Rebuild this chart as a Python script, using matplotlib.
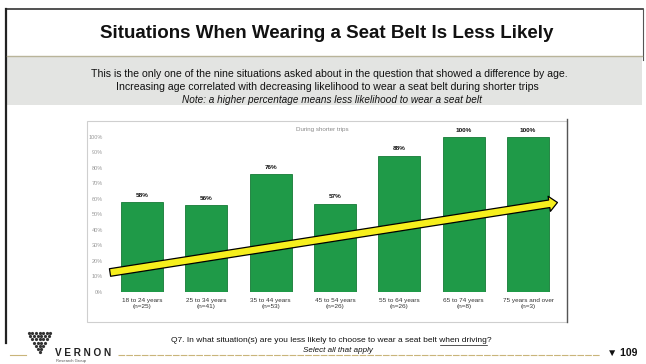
import matplotlib
matplotlib.use('Agg')
import matplotlib.pyplot as plt
from matplotlib.patches import Rectangle, FancyArrowPatch, ArrowStyle
from matplotlib.lines import Line2D
import numpy as np

# ---- data ----
categories = ["18 to 24 years", "25 to 34 years", "35 to 44 years", "45 to 54 years",
              "55 to 64 years", "65 to 74 years", "75 years and over"]
sample_sizes = ["(n=25)", "(n=41)", "(n=53)", "(n=26)", "(n=26)", "(n=8)", "(n=3)"]
values = [58, 56, 76, 57, 88, 100, 100]
y_ticks = [0, 10, 20, 30, 40, 50, 60, 70, 80, 90, 100]
y_tick_labels = [f"{t}%" for t in y_ticks]
chart_caption = "During shorter trips"

title = "Situations When Wearing a Seat Belt Is Less Likely"
sub1 = "This is the only one of the nine situations asked about in the question that showed a difference by age."
sub2 = "Increasing age correlated with decreasing likelihood to wear a seat belt during shorter trips"
sub3 = "Note: a higher percentage means less likelihood to wear a seat belt"
question_pre = "Q7. In what situation(s) are you less likely to choose to wear a seat belt "
question_ul = "when driving"
question_post = "?"
select = "Select all that apply"
page = "\u25BC 109"

plt.rcParams['font.family'] = ['Liberation Sans', 'DejaVu Sans']

W, H = 646, 364
fig = plt.figure(figsize=(W / 100, H / 100), dpi=100)
fig.patch.set_facecolor('white')


def fx(x):
    return x / W


def fy(y):
    return 1 - y / H


def rect(x0, y0, x1, y1, **kw):
    fig.patches.append(Rectangle((fx(x0), fy(y1)), (x1 - x0) / W, (y1 - y0) / H,
                                 transform=fig.transFigure, **kw))


def line(xs, ys, **kw):
    fig.lines.append(Line2D([fx(x) for x in xs], [fy(y) for y in ys],
                            transform=fig.transFigure, **kw))


# slide frame
line([6, 643], [9, 9], color='#333333', lw=1.2)
line([6, 6], [9, 343], color='#222222', lw=1.6)
line([643, 643], [9, 60], color='#555555', lw=0.8)
# subtitle band
rect(7, 57, 642, 105, facecolor='#e3e4e2', edgecolor='none', zorder=0)
line([7, 642], [56, 56], color='#b9b49a', lw=1.0)

fig.text(fx(327), fy(33), title, ha='center', va='center', fontsize=13.5,
         fontweight='bold', color='#111111')
fig.text(fx(329), fy(74), sub1, ha='center', va='center', fontsize=7.6, color='#111111')
fig.text(fx(327), fy(87), sub2, ha='center', va='center', fontsize=7.6, color='#111111')
fig.text(fx(332), fy(100), sub3, ha='center', va='center', fontsize=7.2,
         style='italic', color='#111111')

# chart frame
rect(87, 121, 567, 322, facecolor='white', edgecolor='#cfcfcf', lw=0.8, zorder=1)
line([567, 567], [119, 322], color='#555555', lw=1.0, zorder=2)

ax = fig.add_axes([fx(106), fy(292), 460 / W, 160 / H])
ax.set_zorder(3)
ax.set_facecolor('none')
x = np.arange(len(categories))
bars = ax.bar(x, values, width=0.65, color='#1f9a48', edgecolor='#157a36', lw=0.6, zorder=2)
for xi, v in zip(x, values):
    ax.annotate(f"{v}%", (xi, v), xytext=(0, 3), textcoords='offset points',
                ha='center', va='bottom', fontsize=4.6, fontweight='bold', color='#111111')
ax.set_xlim(-0.56, 6.59)
ax.set_ylim(0, 103.2)
ax.set_yticks(y_ticks)
ax.set_yticklabels(y_tick_labels, fontsize=4, color='#9a9a9a')
ax.set_xticks(x)
ax.set_xticklabels([f"{c}\n{n}" for c, n in zip(categories, sample_sizes)],
                   fontsize=4.6, color='#333333', linespacing=1.3)
ax.tick_params(axis='both', length=0)
ax.tick_params(axis='y', pad=2)
ax.tick_params(axis='x', pad=4)
for s in ax.spines.values():
    s.set_visible(False)

arrow = FancyArrowPatch((-0.54, 12.3), (6.5, 58),
                        arrowstyle=ArrowStyle.Simple(head_length=6, head_width=11, tail_width=5.5),
                        mutation_scale=1, fc='#f6ef1d', ec='black', lw=0.9,
                        clip_on=False, zorder=5)
ax.add_patch(arrow)

fig.text(fx(322), fy(129), chart_caption, ha='center', va='center', fontsize=4.5,
         color='#8a8a8a', zorder=4)

# footer question with underlined part
qsize = 6.0
renderer = fig.canvas.get_renderer()


def text_width(s, **kw):
    t = fig.text(0, 0, s, fontsize=qsize, **kw)
    w = t.get_window_extent(renderer=renderer).width
    t.remove()
    return w


w_pre = text_width(question_pre)
w_ul = text_width(question_ul)
w_full = text_width(question_pre + question_ul + question_post)
left = 331 - w_full / 2
fig.text(fx(331), fy(341), question_pre + question_ul + question_post, ha='center',
         va='center', fontsize=qsize, color='#111111')
line([left + w_pre + 1, left + w_pre + w_ul], [344.5, 344.5], color='#111111', lw=0.5)

fig.text(fx(338), fy(350), select, ha='center', va='center', fontsize=5.8,
         style='italic', color='#111111')
fig.text(fx(637), fy(353), page, ha='right', va='center', fontsize=7.5,
         fontweight='bold', color='#111111')
line([118, 600], [355, 355], color='#c9b57a', lw=0.8, ls=(0, (6, 1)))
line([10, 26], [355, 355], color='#c9b57a', lw=0.8)

# logo dots
for r, n in enumerate([7, 6, 5, 4, 3, 2, 1]):
    xs = 39.5 + (np.arange(n) - (n - 1) / 2) * 3.6
    fig.lines.append(Line2D([fx(v) for v in xs], [fy(333 + r * 3.2)] * n,
                            transform=fig.transFigure, ls='none', marker='o',
                            ms=1.3, color='#333333'))
fig.text(fx(55), fy(353), "V E R N O N", ha='left', va='center', fontsize=7.2,
         fontweight='bold', color='#222222')
fig.text(fx(56), fy(361), "Research Group", ha='left', va='center', fontsize=3,
         color='#555555')

fig.savefig('out.png', dpi=100)
